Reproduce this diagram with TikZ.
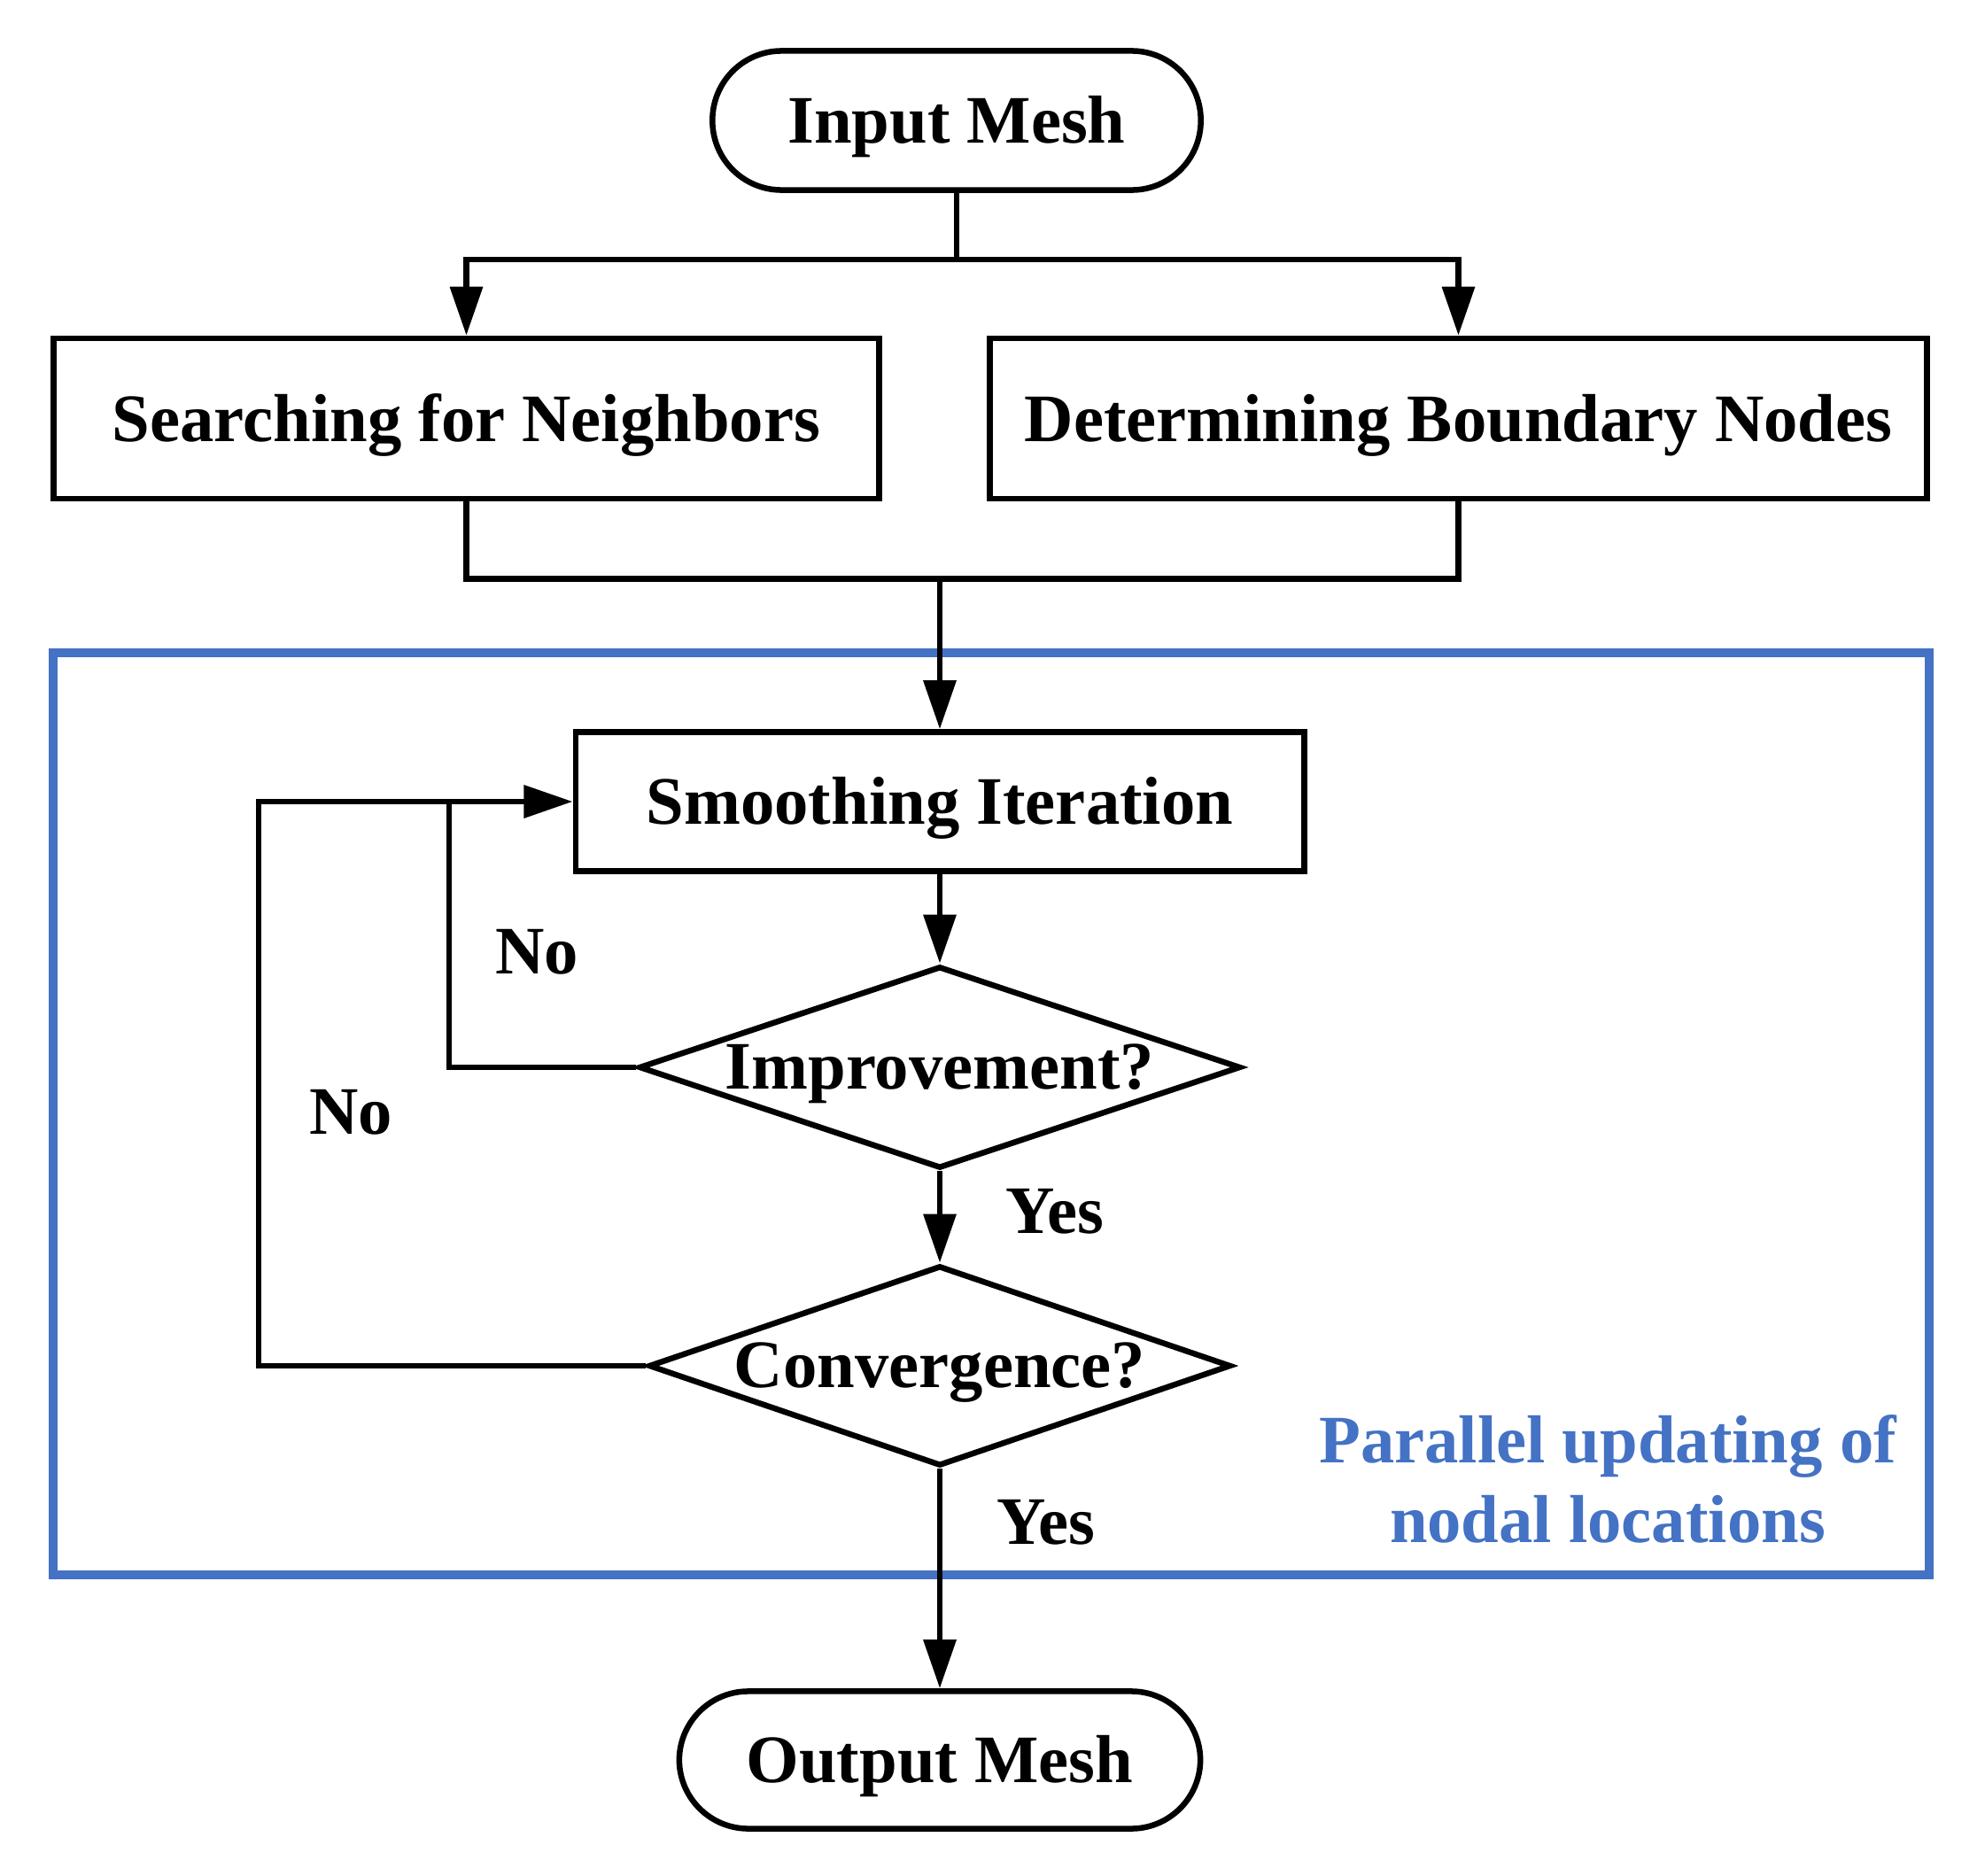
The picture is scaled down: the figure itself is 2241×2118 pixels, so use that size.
\documentclass[tikz,border=0pt]{standalone}
\usepackage{fontspec}
\setmainfont{Liberation Serif}
\usetikzlibrary{shapes.geometric,arrows.meta}
\definecolor{boxblue}{RGB}{68,114,196}
\begin{document}
\begin{tikzpicture}[x=0.01cm,y=-0.01cm,
  every node/.style={font=\fontsize{21.8}{25.8}\selectfont\bfseries},
  line/.style={line width=1.85pt, draw=black},
  arr/.style={line, -{Triangle[length=0.55cm,width=0.36cm]}},
  shifted/.style={text depth=0.05em},
  term/.style={draw, shifted, line width=1.85pt, rounded corners=0.78cm, minimum height=1.57cm, inner sep=0},
  proc/.style={draw, shifted, line width=1.85pt, inner sep=0},
  dec/.style={draw, shifted, line width=1.85pt, diamond, inner sep=0},
  lab/.style={inner sep=0},
]
\useasboundingbox (0,0) rectangle (2241,2118);

% group box
\node[draw=boxblue, line width=2.85pt, minimum width=21.16cm, minimum height=10.41cm, inner sep=0] (grp) at (1119,1257.5) {};
\node[text=boxblue, align=center, lab] (lbl) at (1815,1670) {Parallel updating of\\nodal locations};

% nodes
\node[term, minimum width=5.51cm] (in) at (1080,136) {Input Mesh};
\node[proc, minimum width=9.31cm, minimum height=1.81cm] (srch) at (526.5,472.5) {Searching for Neighbors};
\node[proc, minimum width=10.57cm, minimum height=1.81cm] (det) at (1646.5,472.5) {Determining Boundary Nodes};
\node[proc, minimum width=8.22cm, minimum height=1.57cm] (smooth) at (1061,905) {Smoothing Iteration};
\node[dec, aspect=2.98, minimum width=6.79cm, minimum height=2.28cm] (impr) at (1061,1205) {Improvement?};
\node[dec, aspect=2.9, minimum width=6.57cm, minimum height=2.26cm] (conv) at (1061,1542) {Convergence?};
\node[term, minimum width=5.88cm, minimum height=1.55cm] (out) at (1061,1987) {Output Mesh};

% labels
\node[lab] (no1) at (606,1075) {No};
\node[lab] (no2) at (396,1256) {No};
\node[lab] (yes1) at (1191,1368) {Yes};
\node[lab] (yes2) at (1181,1719) {Yes};

% junction coordinates
\coordinate (j1) at (1080,293);
\coordinate (j2) at (1061,653.5);
\coordinate (l1) at (507,905);
\coordinate (l2) at (292,905);

% connectors
\draw[line] (in.south) -- (j1);
\draw[arr] (j1) -| (srch.north);
\draw[arr] (j1) -| (det.north);
\draw[line] (srch.south) |- (j2) -| (det.south);
\draw[arr] (j2) -- (smooth.north);
\draw[arr] (smooth.south) -- (impr.north);
\draw[arr] (impr.south) -- (conv.north);
\draw[arr] (conv.south) -- (out.north);
\draw[arr] (impr.west) -| (l1) -- (smooth.west);
\draw[line] (conv.west) -| (l2) -- (l1);
\end{tikzpicture}
\end{document}
